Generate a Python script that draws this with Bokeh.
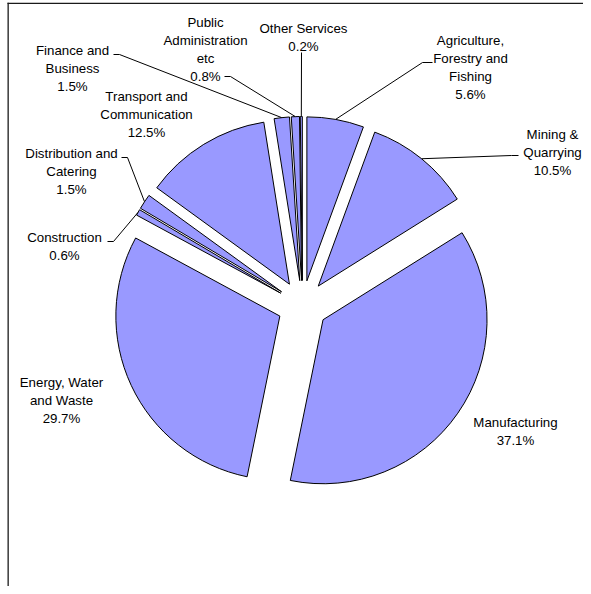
import numpy as np
from bokeh.plotting import figure
from bokeh.models import Range1d, ColumnDataSource
from bokeh.core.properties import value
from bokeh.embed import file_html
from bokeh.resources import INLINE

# ---- data ----
categories = [
    "Agriculture,\nForestry and\nFishing",
    "Mining &\nQuarrying",
    "Manufacturing",
    "Energy, Water\nand Waste",
    "Construction",
    "Distribution and\nCatering",
    "Transport and\nCommunication",
    "Finance and\nBusiness",
    "Public\nAdministration\netc",
    "Other Services",
]
shares = [5.6, 10.5, 37.1, 29.7, 0.6, 1.5, 12.5, 1.5, 0.8, 0.2]

# ---- layout (picture pixel coordinates, y downward) ----
W, H = 583, 586
CX_PX, CY_PX = 302, 305
RADIUS = 164
EXPLODE = 25
label_px_x = [470, 552, 515, 61, 64, 71, 146, 72, 205, 303]
label_px_y = [66.75, 152.3, 431, 399.7, 246, 170.7, 113.7, 67.7, 49, 36.5]
# label-side points of leader lines (None = no leader)
leader_px = [
    [(432, 62), (422, 62)],
    [(518, 155), (511, 155)],
    None,
    None,
    [(107, 241), (113, 241)],
    [(121, 157), (127, 157)],
    None,
    [(113, 54), (119, 54)],
    [(224, 76), (230, 76)],
    [(301, 52)],
]


def dy(py):
    return 594 - py


cx, cy = CX_PX, dy(CY_PX)

vals = np.array(shares, dtype=float)
frac = vals / vals.sum()
cum = np.concatenate([[0.0], np.cumsum(frac)])
start = np.pi / 2 - 2 * np.pi * cum[:-1]
end = np.pi / 2 - 2 * np.pi * cum[1:]
mid = (start + end) / 2
wx = cx + EXPLODE * np.cos(mid)
wy = cy + EXPLODE * np.sin(mid)

p = figure(width=W, height=H, output_backend="svg", toolbar_location=None,
           x_range=Range1d(0, W), y_range=Range1d(594 - H, 594),
           x_axis_type=None, y_axis_type=None, min_border=0, title=None)
p.grid.visible = False
p.outline_line_color = None
p.background_fill_color = "white"

# frame (box border) drawn as thin filled bars
p.quad(left=[7, 7], right=[8.3, W], top=[dy(2.2), dy(2.2)], bottom=[594 - H, dy(3.5)],
       fill_color="#1a1a1a", line_color=None)

src = ColumnDataSource(dict(x=wx, y=wy, start=start, end=end))
p.wedge(x="x", y="y", radius=RADIUS, start_angle="start", end_angle="end",
        direction="clock", source=src, fill_color="#9999FF",
        line_color="black", line_width=1)

# leader lines
xs, ys = [], []
for i, pts in enumerate(leader_px):
    if pts is None:
        continue
    ex = cx + (RADIUS + EXPLODE) * np.cos(mid[i])
    ey = cy + (RADIUS + EXPLODE) * np.sin(mid[i])
    xs.append([q[0] for q in pts] + [ex])
    ys.append([dy(q[1]) for q in pts] + [ey])
p.multi_line(xs, ys, line_color="black", line_width=1)

labels = [f"{c}\n{s:.1f}%" for c, s in zip(categories, shares)]
p.text(x=label_px_x, y=[dy(v) for v in label_px_y], text=labels,
       text_font=value("Liberation Sans"), text_font_size="13.3px",
       text_align="center", text_baseline="middle", text_color="black",
       text_line_height=1.2)

open("out.html", "w").write(file_html(p, INLINE))
